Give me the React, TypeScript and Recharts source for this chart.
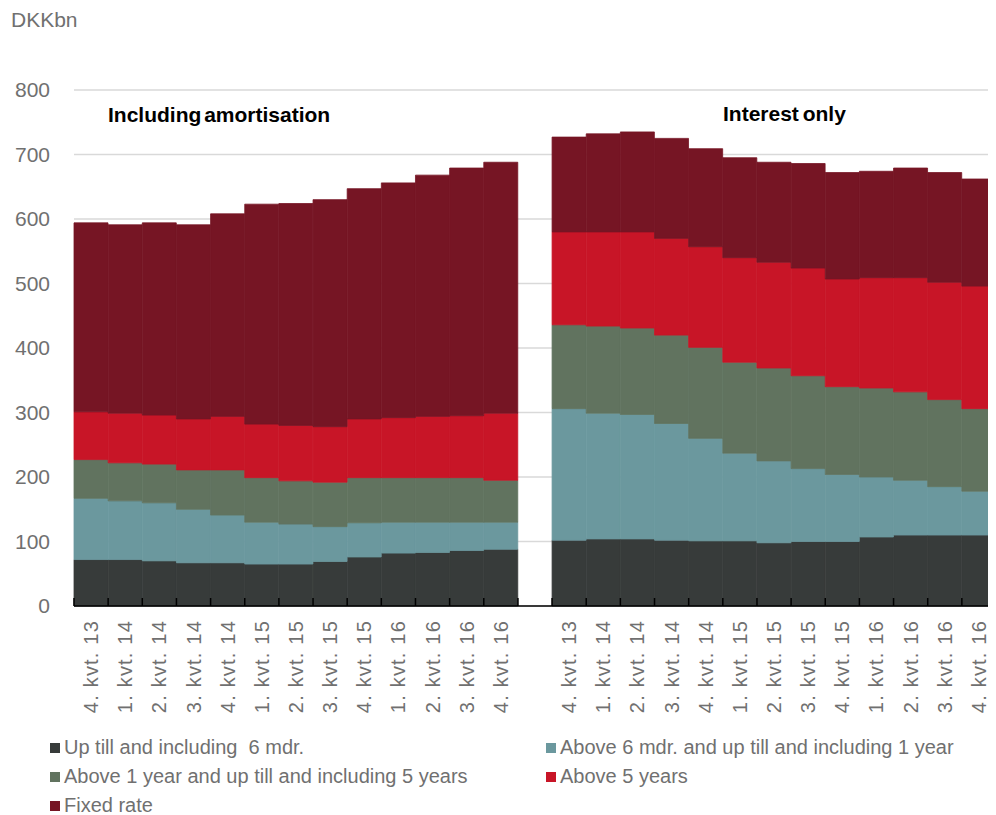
import {Bar, BarChart, CartesianGrid, Legend, XAxis, YAxis} from "recharts";

const quarters = [
    "4. kvt. 13", "1. kvt. 14", "2. kvt. 14", "3. kvt. 14", "4. kvt. 14",
    "1. kvt. 15", "2. kvt. 15", "3. kvt. 15", "4. kvt. 15",
    "1. kvt. 16", "2. kvt. 16", "3. kvt. 16", "4. kvt. 16",
];

// Including amortisation (DKKbn)
const amortUpTo6m = [72, 72, 70, 67, 67, 65, 65, 69, 76, 82, 83, 86, 88];
const amortTo1y = [95, 91, 90, 83, 74, 65, 62, 54, 53, 48, 47, 44, 42];
const amortTo5y = [60, 59, 60, 61, 70, 69, 67, 69, 70, 69, 69, 69, 65];
const amortOver5y = [74, 77, 76, 79, 83, 83, 86, 86, 91, 93, 95, 96, 104];
const amortFixed = [293, 292, 298, 301, 314, 341, 344, 352, 357, 364, 374, 384, 389];

// Interest only (DKKbn)
const ioUpTo6m = [102, 104, 104, 102, 101, 101, 98, 100, 100, 107, 110, 110, 110];
const ioTo1y = [204, 195, 193, 181, 159, 136, 127, 113, 104, 93, 85, 75, 68];
const ioTo5y = [130, 135, 134, 137, 141, 141, 144, 144, 136, 138, 137, 135, 128];
const ioOver5y = [144, 146, 149, 150, 156, 162, 164, 167, 167, 171, 177, 182, 190];
const ioFixed = [147, 152, 155, 155, 152, 155, 155, 162, 165, 165, 170, 170, 166];

const yTicks = [0, 100, 200, 300, 400, 500, 600, 700, 800];

const series = [
    {key: "upTo6m", name: "Up till and including  6 mdr.", color: "#373b3a"},
    {key: "to1y", name: "Above 6 mdr. and up till and including 1 year", color: "#6b989e"},
    {key: "to5y", name: "Above 1 year and up till and including 5 years", color: "#61735f"},
    {key: "over5y", name: "Above 5 years", color: "#c81527"},
    {key: "fixed", name: "Fixed rate", color: "#761524"},
];

const data = [
    ...quarters.map((q, i) => ({
        id: `a${i}`, label: q,
        upTo6m: amortUpTo6m[i], to1y: amortTo1y[i], to5y: amortTo5y[i], over5y: amortOver5y[i], fixed: amortFixed[i],
    })),
    {id: "gap", label: ""},
    ...quarters.map((q, i) => ({
        id: `i${i}`, label: q,
        upTo6m: ioUpTo6m[i], to1y: ioTo1y[i], to5y: ioTo5y[i], over5y: ioOver5y[i], fixed: ioFixed[i],
    })),
];

const labelById: Record<string, string> = Object.fromEntries(data.map(d => [d.id, d.label]));

const W = 988;
const H = 807;
const PLOT_W = W - 66;
const BAND = PLOT_W / data.length;

const grey = "#707070";

const QuarterTick = (props: any) => {
    const {x, y, payload, index} = props;
    const label = labelById[payload.value];
    const last = index === data.length - 1;
    return (
        <g>
            <line x1={x - BAND / 2} x2={x - BAND / 2} y1={y - 8} y2={y} stroke="#000" strokeWidth={1.5}/>
            {last && <line x1={x + BAND / 2} x2={x + BAND / 2} y1={y - 8} y2={y} stroke="#000" strokeWidth={1.5}/>}
            <text x={x} y={y + 14} transform={`rotate(-90, ${x}, ${y + 14})`} textAnchor="end"
                  dominantBaseline="central" fill={grey} fontSize={20} letterSpacing={1.2}>
                {label}
            </text>
        </g>
    );
};

const LegendBox = () => (
    <div style={{display: "grid", gridTemplateColumns: "496px 496px", paddingLeft: 42, paddingTop: 7}}>
        {series.map(s => (
            <div key={s.key} style={{display: "flex", alignItems: "center", height: 29, color: grey, fontSize: 20, whiteSpace: "pre"}}>
                <span style={{display: "inline-block", width: 10, height: 10, background: s.color, marginRight: 4}}/>
                {s.name}
            </div>
        ))}
    </div>
);

const App = (): React.JSX.Element => {
    return (
        <div style={{position: "relative", width: W, height: H, fontFamily: "'Liberation Sans', Arial, sans-serif"}}>
            <BarChart data={data} width={W} height={H} barCategoryGap={0}
                      margin={{top: 82, right: 0, bottom: 0, left: 0}}
                      style={{fontFamily: "'Liberation Sans', Arial, sans-serif"}}>
                <CartesianGrid vertical={false} stroke="#d9d9d9" strokeWidth={1.3}/>
                <YAxis domain={[0, 800]} ticks={yTicks} width={66} axisLine={false} tickLine={false}
                       tickMargin={18} tick={{fill: grey, fontSize: 21}}/>
                {series.map(s => (
                    <Bar key={s.key} dataKey={s.key} name={s.name} stackId="a" fill={s.color}
                         stroke={s.color} strokeWidth={0.8} isAnimationActive={false}/>
                ))}
                <XAxis dataKey="id" interval={0} height={120} tickSize={0} tickMargin={0}
                       axisLine={{stroke: "#000", strokeWidth: 1.5}} tickLine={false} tick={<QuarterTick/>}/>
                <Legend verticalAlign="bottom" height={89} content={<LegendBox/>}/>
            </BarChart>
            <div style={{position: "absolute", left: 3, top: 0, fontSize: 21, color: grey}}>DKKbn</div>
            <div style={{position: "absolute", left: 100, top: 95, fontSize: 21, fontWeight: "bold", color: "#000", wordSpacing: -3}}>
                Including amortisation
            </div>
            <div style={{position: "absolute", left: 715, top: 94, fontSize: 21, fontWeight: "bold", color: "#000", wordSpacing: -2}}>
                Interest only
            </div>
        </div>
    );
};

export default App;
